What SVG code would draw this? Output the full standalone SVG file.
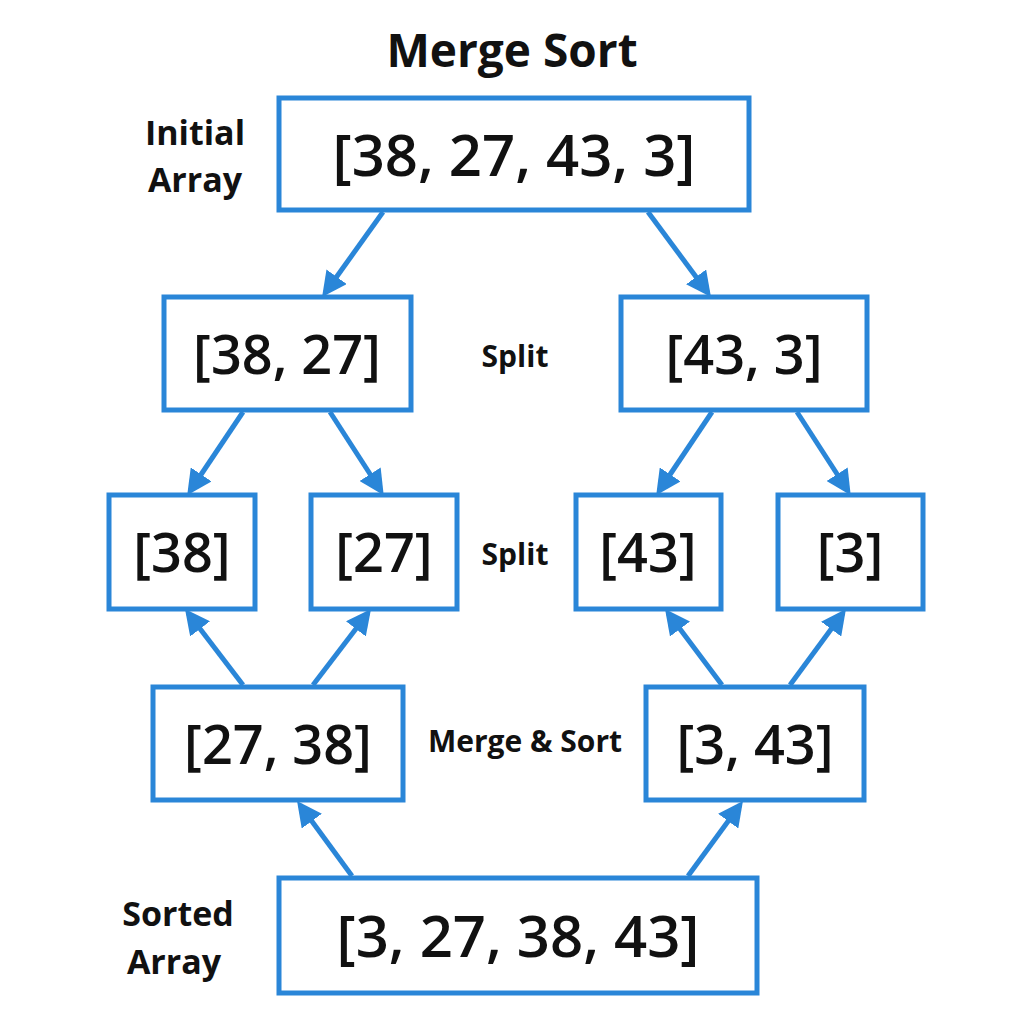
<svg xmlns="http://www.w3.org/2000/svg" width="1024" height="1024" viewBox="0 0 1024 1024">
<style>
.b{fill:#fff;stroke:#2a86d8;stroke-width:5}
.t{font-family:"Open Sans","DejaVu Sans",sans-serif;font-weight:600;fill:#111;text-anchor:middle}
.l{font-family:"Open Sans","DejaVu Sans",sans-serif;font-weight:700;fill:#111;text-anchor:middle}
.c line{stroke:#2a86d8;stroke-width:5;marker-end:url(#a)}
</style>
<defs><marker id="a" viewBox="0 0 10 10" refX="8" refY="5" markerWidth="5" markerHeight="5" orient="auto" markerUnits="strokeWidth"><path d="M0,0L10,5L0,10z" fill="#2a86d8"/></marker></defs>
<rect width="1024" height="1024" fill="#fff"/>
<text class="l" x="512" y="67" font-size="46">Merge Sort</text>
<text class="l" x="195" y="145" font-size="34">Initial</text>
<text class="l" x="195" y="192" font-size="34">Array</text>
<text class="l" x="515" y="367" font-size="30">Split</text>
<text class="l" x="515" y="565" font-size="30">Split</text>
<text class="l" x="525" y="752" font-size="30">Merge &amp; Sort</text>
<text class="l" x="178" y="926" font-size="34">Sorted</text>
<text class="l" x="174" y="974" font-size="34">Array</text>
<g class="c">
<line x1="383" y1="212" x2="325" y2="293"/>
<line x1="648" y1="212" x2="708" y2="293"/>
<line x1="243" y1="412" x2="190" y2="491"/>
<line x1="330" y1="412" x2="381" y2="491"/>
<line x1="712" y1="412" x2="659" y2="491"/>
<line x1="797" y1="412" x2="848" y2="491"/>
<line x1="243" y1="685" x2="188" y2="613"/>
<line x1="313" y1="685" x2="368" y2="613"/>
<line x1="722" y1="685" x2="668" y2="613"/>
<line x1="790" y1="685" x2="843" y2="613"/>
<line x1="352" y1="876" x2="300" y2="805"/>
<line x1="688" y1="876" x2="740" y2="805"/>
</g>
<g id="n0"><rect class="b" x="279" y="98" width="470" height="112"/><text class="t" x="514" y="176" font-size="58">[38, 27, 43, 3]</text></g>
<g id="n1"><rect class="b" x="164" y="297" width="247" height="113"/><text class="t" x="287" y="374" font-size="54">[38, 27]</text></g>
<g id="n2"><rect class="b" x="621" y="297" width="246" height="113"/><text class="t" x="744" y="374" font-size="54">[43, 3]</text></g>
<g id="n3"><rect class="b" x="109" y="495" width="146" height="114"/><text class="t" x="182" y="572" font-size="54">[38]</text></g>
<g id="n4"><rect class="b" x="311" y="495" width="146" height="114"/><text class="t" x="384" y="572" font-size="54">[27]</text></g>
<g id="n5"><rect class="b" x="576" y="495" width="145" height="114"/><text class="t" x="648" y="572" font-size="54">[43]</text></g>
<g id="n6"><rect class="b" x="778" y="495" width="145" height="114"/><text class="t" x="850" y="572" font-size="54">[3]</text></g>
<g id="n7"><rect class="b" x="153" y="687" width="250" height="113"/><text class="t" x="278" y="764" font-size="54">[27, 38]</text></g>
<g id="n8"><rect class="b" x="646" y="687" width="218" height="113"/><text class="t" x="755" y="764" font-size="54">[3, 43]</text></g>
<g id="n9"><rect class="b" x="279" y="878" width="478" height="115"/><text class="t" x="518" y="957" font-size="58">[3, 27, 38, 43]</text></g>
</svg>
